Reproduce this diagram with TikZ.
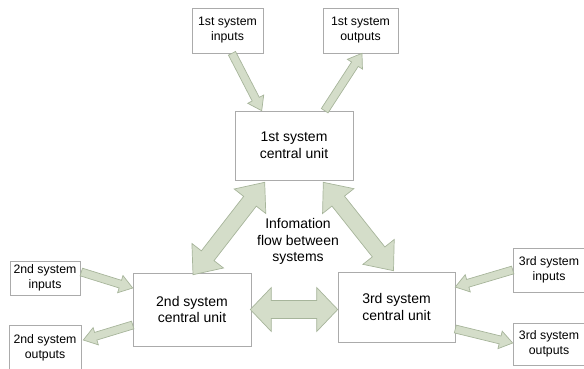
\documentclass[tikz,border=0pt]{standalone}
\usepackage{fontspec}
\setmainfont{Liberation Sans}
\usetikzlibrary{calc}
\definecolor{arrfill}{HTML}{D4DDC9}
\definecolor{arrline}{HTML}{A7B59B}
\definecolor{boxline}{HTML}{ABABAB}
\tikzset{
  bigbox/.style={draw=boxline, line width=0.6pt, fill=white, align=center, inner sep=0pt,
    font=\fontsize{14}{16.7}\selectfont},
  smallbox/.style={draw=boxline, line width=0.6pt, fill=white, align=center, inner sep=0pt,
    font=\fontsize{12.3}{15}\selectfont},
  blockarrow/.style={draw=arrline, fill=arrfill, line width=0.7pt, line join=miter},
  labeltext/.style={align=center, font=\fontsize{14}{16.7}\selectfont}
}
% single block arrow: tail, tip, half shaft, half head, head length
\newcommand{\blkarrowS}[5]{%
  \path coordinate (bh) at ($(#2)!#5!(#1)$);
  \draw[blockarrow] ($(#1)!#3!90:(#2)$) -- ($(bh)!#3!90:(#2)$) -- ($(bh)!#4!90:(#2)$) -- (#2)
    -- ($(bh)!#4!-90:(#2)$) -- ($(bh)!#3!-90:(#2)$) -- ($(#1)!#3!-90:(#2)$) -- cycle;
}
% double block arrow: end A, end B, half shaft, half head, head length
\newcommand{\blkarrowD}[5]{%
  \path coordinate (bhb) at ($(#2)!#5!(#1)$);
  \path coordinate (bha) at ($(#1)!#5!(#2)$);
  \draw[blockarrow] (#1) -- ($(bha)!#4!90:(#2)$) -- ($(bha)!#3!90:(#2)$) -- ($(bhb)!#3!90:(#2)$)
    -- ($(bhb)!#4!90:(#2)$) -- (#2) -- ($(bhb)!#4!-90:(#2)$) -- ($(bhb)!#3!-90:(#2)$)
    -- ($(bha)!#3!-90:(#2)$) -- ($(bha)!#4!-90:(#2)$) -- cycle;
}
\begin{document}
\begin{tikzpicture}[x=1pt, y=-1pt]
\useasboundingbox (0,0) rectangle (584,368);
% boxes
\node[smallbox, minimum width=71pt, minimum height=45pt] (i1) at (227.5,30.5) {1st system\\inputs};
\node[smallbox, minimum width=75pt, minimum height=45pt] (o1) at (360.5,30.5) {1st system\\outputs};
\node[bigbox, minimum width=118pt, minimum height=69pt] (c1) at (294,145.5) {1st system\\central unit};
\node[smallbox, minimum width=70pt, minimum height=34pt] (i2) at (45,278) {2nd system\\inputs};
\node[smallbox, minimum width=72pt, minimum height=45pt] (o2) at (45,347.5) {2nd system\\outputs};
\node[bigbox, minimum width=118pt, minimum height=73pt] (c2) at (192,309.5) {2nd system\\central unit};
\node[bigbox, minimum width=117pt, minimum height=70pt] (c3) at (396.5,307) {3rd system\\central unit};
\node[smallbox, minimum width=72pt, minimum height=44pt] (i3) at (549,270) {3rd system\\inputs};
\node[smallbox, minimum width=72pt, minimum height=42pt] (o3) at (549,344) {3rd system\\outputs};
\node[labeltext] (info) at (298,241.5) {Infomation\\flow between\\systems};
% connector end points
\coordinate (a1t) at ($(i1.south)+(4.5,0)$);
\coordinate (a1h) at ($(c1.north west)+(27,0)$);
\coordinate (a2t) at ($(c1.north west)+(90,0)$);
\coordinate (a2h) at ($(o1.south)+(1.5,0)$);
\coordinate (a3a) at ($(c1.south west)+(30,2)$);
\coordinate (a3b) at ($(c2.north)+(1,2)$);
\coordinate (a4a) at ($(c1.south east)+(-30,2)$);
\coordinate (a4b) at ($(c3.north)+(-3,-1)$);
\coordinate (a5a) at ($(c2.east)+(-1,0)$);
\coordinate (a5b) at (a5a -| c3.west);
\coordinate (a6t) at ($(i2.east)+(1,-6)$);
\coordinate (a6h) at ($(c2.west)+(0,-21.5)$);
\coordinate (a7t) at ($(c2.west)+(0,15.5)$);
\coordinate (a7h) at ($(o2.east)+(2,-7.5)$);
\coordinate (a8t) at (i3.west);
\coordinate (a8h) at ($(c3.east)+(0,-20)$);
\coordinate (a9t) at ($(c3.east)+(0,22)$);
\coordinate (a9h) at ($(o3.west)+(0,-1)$);
% connectors
\blkarrowS{a1t}{a1h}{4pt}{9pt}{13pt}
\blkarrowS{a2t}{a2h}{4pt}{9pt}{13pt}
\blkarrowD{a3a}{a3b}{8pt}{20pt}{24pt}
\blkarrowD{a4a}{a4b}{8pt}{20pt}{24pt}
\blkarrowD{a5a}{a5b}{9pt}{22pt}{21pt}
\blkarrowS{a6t}{a6h}{4pt}{9pt}{13pt}
\blkarrowS{a7t}{a7h}{4pt}{9pt}{13pt}
\blkarrowS{a8t}{a8h}{4pt}{9pt}{13pt}
\blkarrowS{a9t}{a9h}{4pt}{9pt}{13pt}
\end{tikzpicture}
\end{document}
